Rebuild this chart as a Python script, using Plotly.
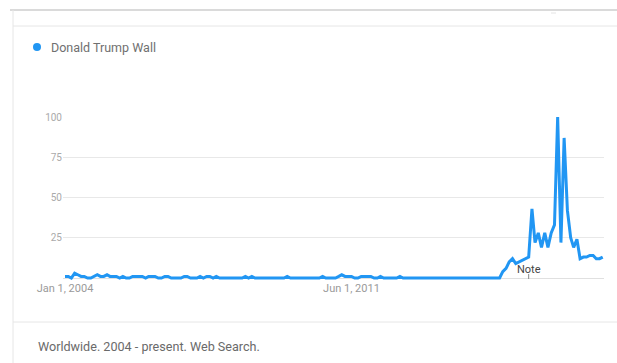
import pandas as pd
import plotly.graph_objects as go

# ---- data (monthly interest, Jan 2004 onward) ----
series_name = "Donald Trump Wall"
values = [
    1, 1, 0, 3, 2, 1, 1, 0, 0, 1, 2, 1, 1, 2, 1, 1, 1, 0, 1, 0,   # 2004-2005
    0, 1, 1, 1, 1, 0, 1, 1, 1, 0, 0, 1, 1, 0, 0, 0, 0, 1, 1, 0,   # 2005-2007
    0, 0, 1, 0, 1, 1, 0, 1, 0, 0, 0, 0, 0, 0, 0, 0, 1, 0, 1, 0,   # 2007-2008
    0, 0, 0, 0, 0, 0, 0, 0, 0, 1, 0, 0, 0, 0, 0, 0, 0, 0, 0, 0,   # 2009-2010
    1, 0, 0, 0, 0, 1, 2, 1, 1, 1, 0, 0, 1, 1, 1, 1, 0, 0, 1, 0,   # 2010-2012
    0, 0, 0, 0, 1, 0, 0, 0, 0, 0, 0, 0, 0, 0, 0, 0, 0, 0, 0, 0,   # 2012-2014
    0, 0, 0, 0, 0, 0, 0, 0, 0, 0, 0, 0, 0, 0, 0, 0, 4, 6, 10, 12, # 2014-2015
    9, 10, 11, 12, 13, 43, 22, 28, 19, 28, 19, 28, 33, 100, 22, 87,  # 2015-2017
    42, 25, 19, 24, 12, 13, 13, 14, 14, 12, 12, 13,               # 2017
]
dates = pd.date_range("2004-01-01", periods=len(values), freq="MS")

x_tick_vals = ["2004-01-01", "2011-06-01"]
x_tick_text = ["Jan 1, 2004", "Jun 1, 2011"]
y_tick_vals = [25, 50, 75, 100]
y_tick_text = ["25", "50", "75", "100"]
note_date = "2016-01-01"
footer_text = "Worldwide. 2004 - present. Web Search."

# ---- layout geometry ----
W, H = 617, 363
ML, MR, MT, MB = 63, 13, 116, 83
PW, PH = W - ML - MR, H - MT - MB
BLUE = "#2196F3"


def px_x(px):
    return (px - ML) / PW


def px_y(py):
    return (H - MB - py) / PH


fig = go.Figure()
fig.add_trace(go.Scatter(
    x=dates, y=values, mode="lines", name=series_name,
    line=dict(color=BLUE, width=3), showlegend=False,
    hovertemplate="%{x|%b %Y}: %{y}<extra></extra>",
))

shapes = []
line_col = "#e6e6e6"
# card outlines
shapes.append(dict(type="line", xref="paper", yref="paper",
                   x0=px_x(10), x1=px_x(617), y0=px_y(10), y1=px_y(10),
                   line=dict(color="#dadada", width=2)))
shapes.append(dict(type="line", xref="paper", yref="paper",
                   x0=px_x(13), x1=px_x(617), y0=px_y(26), y1=px_y(26),
                   line=dict(color=line_col, width=1)))
shapes.append(dict(type="line", xref="paper", yref="paper",
                   x0=px_x(13), x1=px_x(13), y0=px_y(10), y1=px_y(363),
                   line=dict(color=line_col, width=1)))
shapes.append(dict(type="line", xref="paper", yref="paper",
                   x0=px_x(13), x1=px_x(617), y0=px_y(322), y1=px_y(322),
                   line=dict(color=line_col, width=1)))
# small mark on top edge
shapes.append(dict(type="line", xref="paper", yref="paper",
                   x0=px_x(551), x1=px_x(556), y0=px_y(13), y1=px_y(13),
                   line=dict(color="#e4e4e4", width=1)))
# legend dot
shapes.append(dict(type="circle", xref="paper", yref="paper",
                   x0=px_x(33), x1=px_x(41), y0=px_y(43), y1=px_y(51),
                   fillcolor=BLUE, line=dict(width=0)))
# note tick
shapes.append(dict(type="line", xref="x", yref="paper",
                   x0=note_date, x1=note_date, y0=px_y(274), y1=px_y(279),
                   line=dict(color="#888888", width=1)))

annotations = [
    dict(xref="paper", yref="paper", x=px_x(49), y=px_y(47), xanchor="left",
         yanchor="middle", text=series_name, showarrow=False,
         font=dict(size=12.5, color="#707070")),
    dict(xref="paper", yref="paper", x=px_x(36), y=px_y(346), xanchor="left",
         yanchor="middle", text=footer_text, showarrow=False,
         font=dict(size=12.6, color="#6a6a6a")),
    dict(xref="x", yref="paper", x=note_date, y=px_y(269), xanchor="center",
         yanchor="middle", text="Note", showarrow=False,
         font=dict(size=11, color="#444444")),
]

fig.update_layout(
    width=W, height=H,
    margin=dict(l=ML, r=MR, t=MT, b=MB, pad=0),
    paper_bgcolor="white", plot_bgcolor="white",
    font=dict(family="Roboto, Arial, sans-serif"),
    shapes=shapes, annotations=annotations,
    showlegend=False,
    xaxis=dict(
        type="date", range=["2003-12-13", "2017-12-13"],
        tickvals=x_tick_vals, ticktext=x_tick_text,
        showgrid=False, showline=False, zeroline=False, ticks="",
        tickfont=dict(size=11, color="#9a9a9a"),
        fixedrange=True,
    ),
    yaxis=dict(
        range=[-1.24, 100.62],
        tickvals=y_tick_vals, ticktext=y_tick_text,
        showgrid=True, gridcolor="#e8e8e8", gridwidth=1,
        zeroline=True, zerolinecolor="#e0e0e0", zerolinewidth=1,
        showline=False, ticks="",
        tickfont=dict(size=10, color="#aaaaaa"),
        fixedrange=True,
    ),
)

fig.write_html("out.html", config={"displayModeBar": False},
               post_script="document.body.style.margin='0';document.body.style.overflow='hidden';")
